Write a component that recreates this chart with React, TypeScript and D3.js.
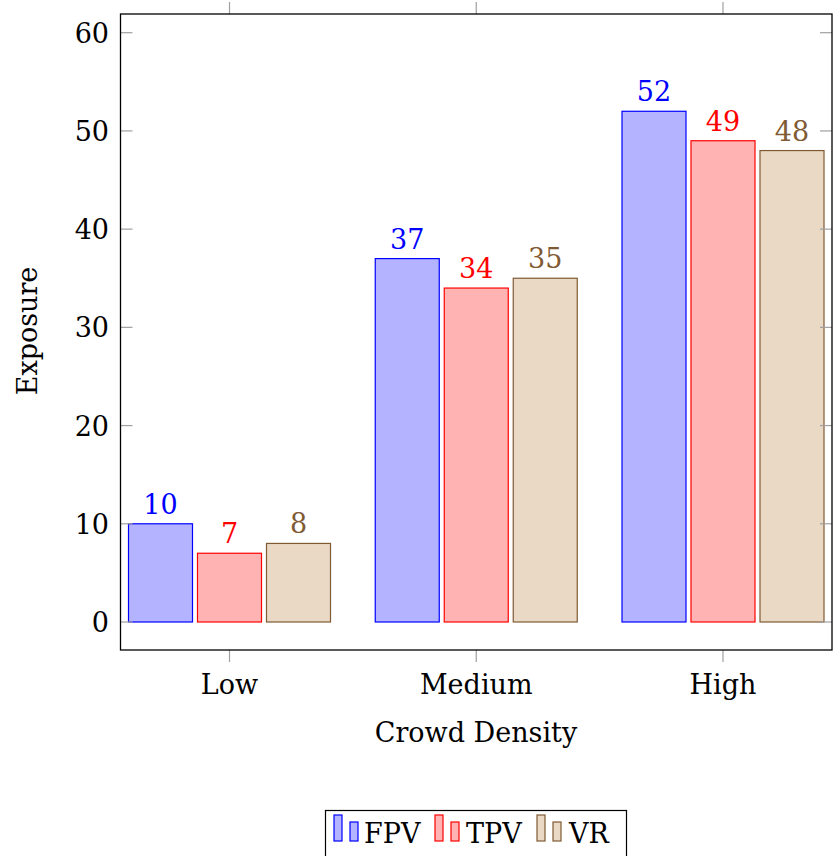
import React from "react";
import * as d3 from "d3";

const categories = ["Low", "Medium", "High"];
const seriesNames = ["FPV", "TPV", "VR"];
const fpv = [10, 37, 52];
const tpv = [7, 34, 49];
const vr = [8, 35, 48];
const yTicks = [0, 10, 20, 30, 40, 50, 60];

const strokes = ["#0000ff", "#ff0000", "#7f5a33"];
const fills = ["#b3b3ff", "#ffb3b3", "#ead9c5"];
const labelColors = ["#0000ff", "#ff0000", "#7f5a33"];

const FONT = "DejaVu Serif";
const FS = 27;

export default function App() {
  const W = 835, H = 856;
  const left = 120.5, right = 832, top = 14, bottom = 650;
  const series = [fpv, tpv, vr];
  const y = d3.scaleLinear().domain([0, 60]).range([622, 32.7]);
  const x = d3.scalePoint<string>().domain(categories).range([229.5, 723]);
  const barW = 64, step = 69;
  const grey = "#a0a0a0";

  return (
    <svg width={W} height={H} style={{ position: "absolute", left: 0, top: 0, fontFamily: FONT }}>
      <rect x={0} y={0} width={W} height={H} fill="white" />
      {series.map((vals, si) =>
        vals.map((v, ci) => {
          const cx = (x(categories[ci]) as number) + (si - 1) * step;
          return (
            <g key={`${si}-${ci}`}>
              <rect x={cx - barW / 2} y={y(v)} width={barW} height={y(0) - y(v)} fill={fills[si]} stroke={strokes[si]} strokeWidth={1.2} />
              <text x={cx} y={y(v) - 10} textAnchor="middle" fontSize={FS} fill={labelColors[si]}>{v}</text>
            </g>
          );
        })
      )}
      {yTicks.map((t) => (
        <g key={t}>
          <line x1={left} x2={left + 12} y1={y(t)} y2={y(t)} stroke={grey} strokeWidth={1.2} />
          <line x1={right - 12} x2={right} y1={y(t)} y2={y(t)} stroke={grey} strokeWidth={1.2} />
          <text x={109} y={y(t) + 10} textAnchor="end" fontSize={FS}>{t}</text>
        </g>
      ))}
      {categories.map((c) => (
        <g key={c}>
          <line x1={x(c)} x2={x(c)} y1={bottom} y2={bottom + 12} stroke={grey} strokeWidth={1.2} />
          <line x1={x(c)} x2={x(c)} y1={top} y2={top - 12} stroke={grey} strokeWidth={1.2} />
          <text x={x(c)} y={694} textAnchor="middle" fontSize={FS}>{c}</text>
        </g>
      ))}
      <rect x={left} y={top} width={right - left} height={bottom - top} fill="none" stroke="black" strokeWidth={1.3} />
      <text x={476} y={742} textAnchor="middle" fontSize={FS}>Crowd Density</text>
      <text transform={`translate(37,331) rotate(-90)`} textAnchor="middle" fontSize={FS}>Exposure</text>
      <rect x={325.5} y={810.5} width={301} height={60} fill="white" stroke="black" strokeWidth={1.2} />
      {seriesNames.map((n, i) => {
        const xs = [334, 435, 537][i];
        const tx = [364, 466, 569][i];
        return (
          <g key={n}>
            <rect x={xs} y={815} width={8} height={26} fill={fills[i]} stroke={strokes[i]} strokeWidth={1.2} />
            <rect x={xs + 16} y={822} width={8} height={19} fill={fills[i]} stroke={strokes[i]} strokeWidth={1.2} />
            <text x={tx} y={843} fontSize={FS}>{n}</text>
          </g>
        );
      })}
    </svg>
  );
}
